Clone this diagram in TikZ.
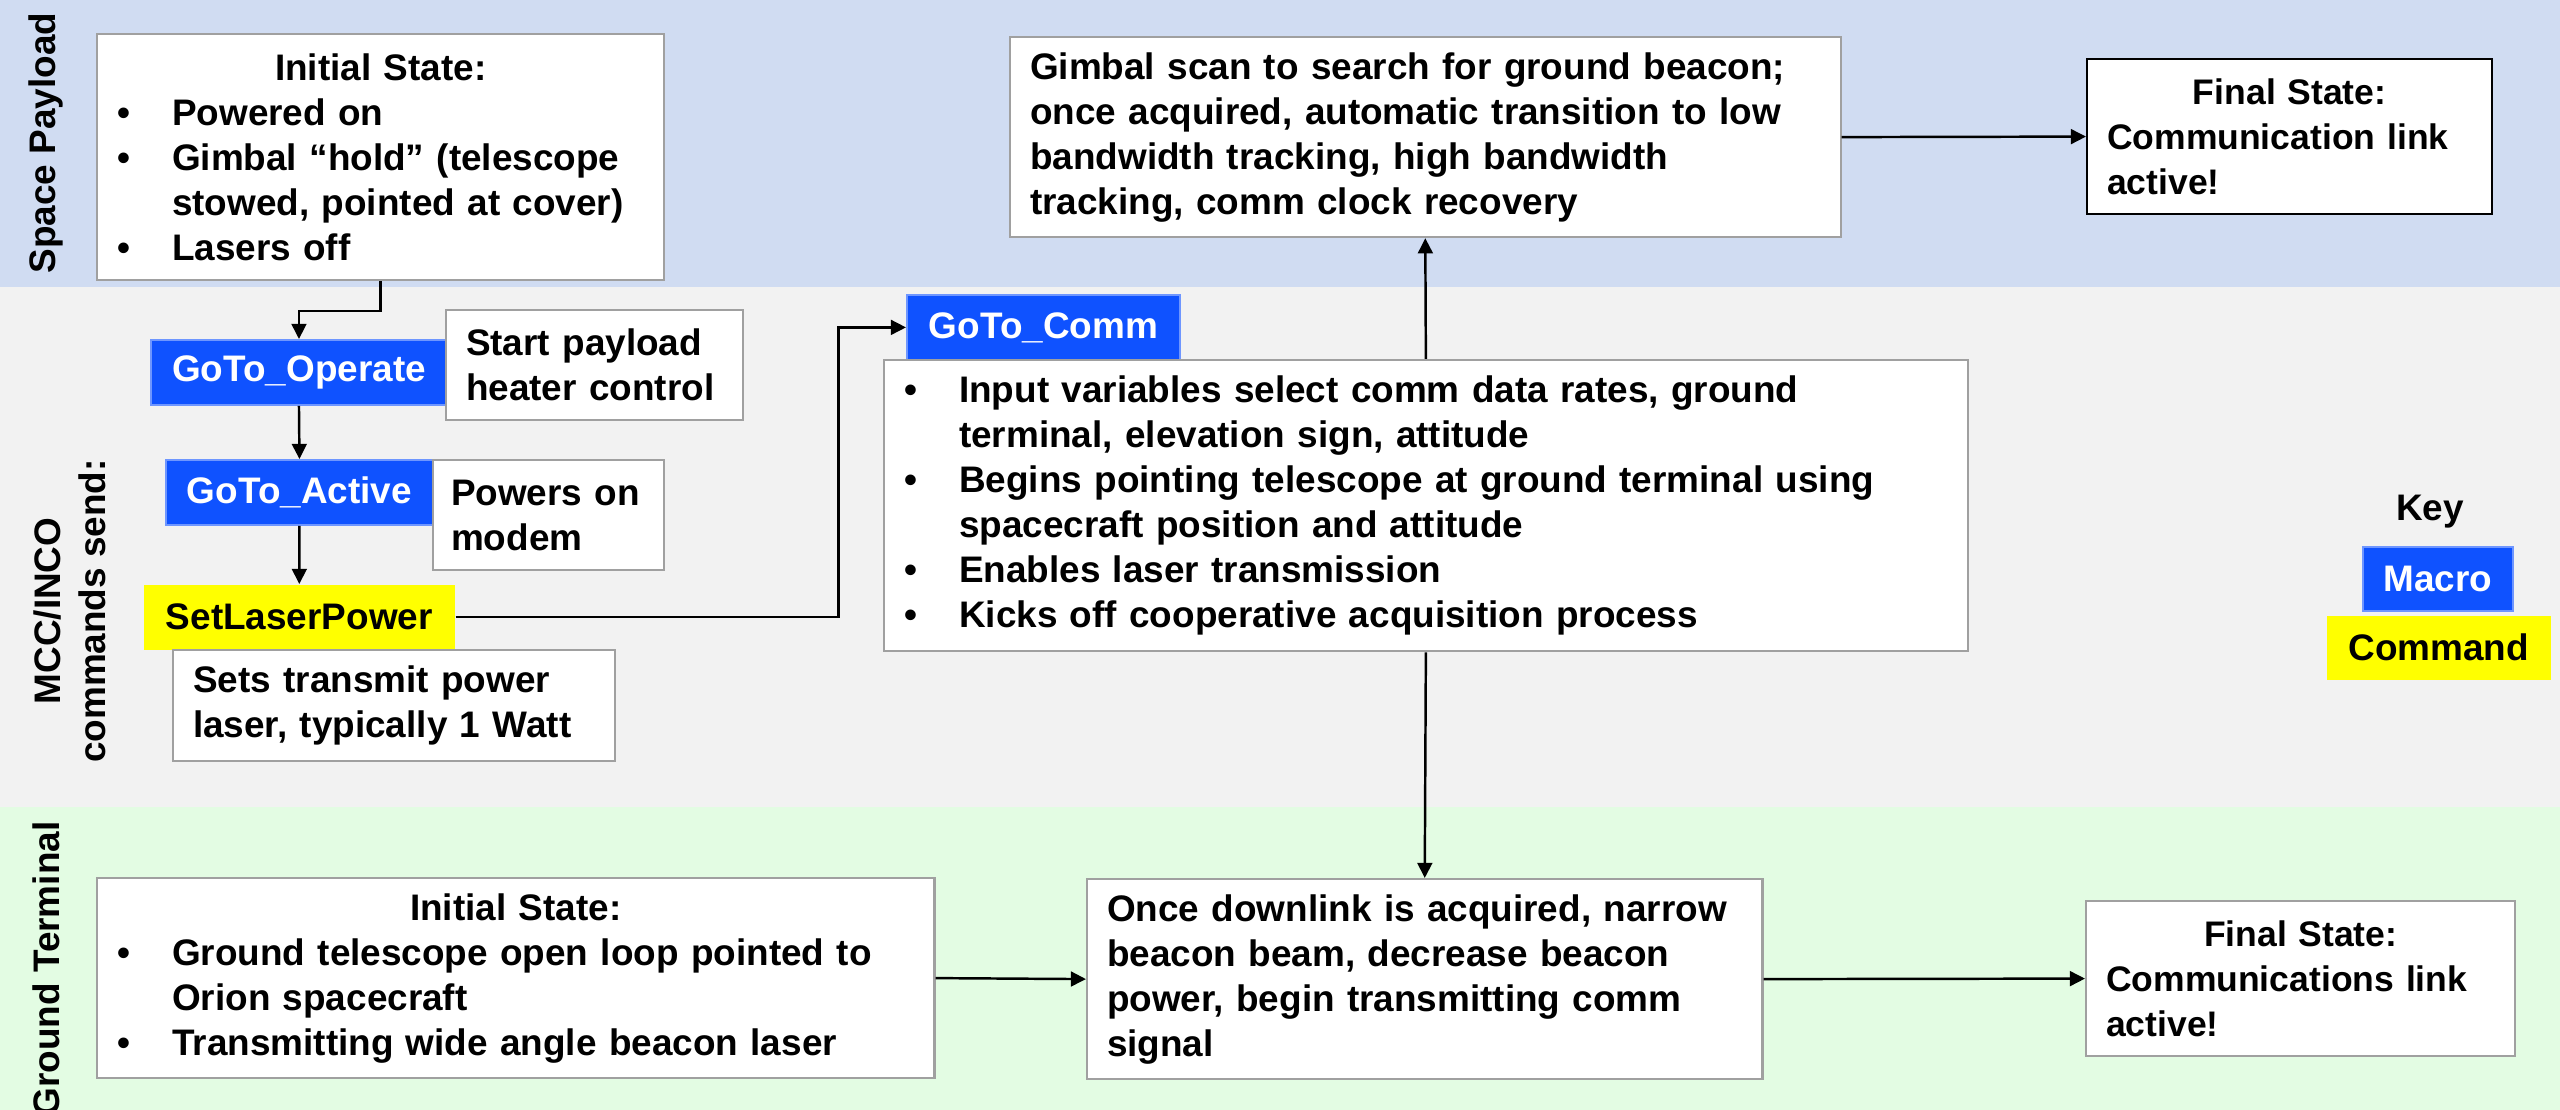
\documentclass[tikz,border=0pt]{standalone}
\usepackage{fontspec}
\setmainfont{Liberation Sans}
\usetikzlibrary{arrows.meta}

\definecolor{lanespace}{RGB}{208,220,242}
\definecolor{lanemcc}{RGB}{242,242,242}
\definecolor{laneground}{RGB}{227,252,227}
\definecolor{macroblue}{RGB}{15,82,255}
\definecolor{macroedge}{RGB}{110,150,255}
\definecolor{cmdyellow}{RGB}{255,255,0}
\definecolor{boxgray}{RGB}{160,160,160}

\newcommand{\bitem}{\makebox[0.55cm][l]{\textbullet}}
\newcommand{\bcont}{\hspace*{0.55cm}}

\begin{document}
\begin{tikzpicture}[
    x=0.01cm, y=-0.01cm,
    font=\fontsize{10.5}{12.8}\selectfont\bfseries,
    >={Triangle[length=4.3pt,width=4.2pt]},
    box/.style     = {draw=boxgray, fill=white, line width=0.6pt, anchor=north west,
                      align=left, inner xsep=0.2cm, inner ysep=0pt},
    macro/.style   = {draw=macroedge, fill=macroblue, text=white, line width=0.5pt,
                      anchor=north west, inner sep=0pt, minimum height=0.65cm},
    command/.style = {fill=cmdyellow, anchor=north west, inner sep=0pt, minimum height=0.65cm},
    conn/.style    = {->, line width=0.7pt},
    lane/.style    = {rotate=90, align=center},
  ]
  \useasboundingbox (0,0) rectangle (2560,1110);
  \clip (0,0) rectangle (2560,1110);

  % Hintergrundbaender
  \fill[lanespace]  (0,0)   rectangle (2560,287);
  \fill[lanemcc]    (0,287) rectangle (2560,807);
  \fill[laneground] (0,807) rectangle (2560,1110);

  % Beschriftung der Baender
  \node[lane] (laneSpace)  at (46,143) {Space Payload};
  \node[lane] (laneMcc)    at (70,611) {MCC/INCO\\commands send:};
  \node[lane] (laneGround) at (46,969) {Ground Terminal};

  % Space Payload
  \node[box, minimum width=5.67cm, minimum height=2.46cm, text width=5.27cm] (spInit) at (96,33) {%
    \makebox[\linewidth]{Initial State:}\\
    \bitem Powered on\\
    \bitem Gimbal “hold” (telescope\\
    \bcont stowed, pointed at cover)\\
    \bitem Lasers off};
  \node[box, minimum width=8.30cm, minimum height=2.00cm, text width=7.90cm] (gimbal) at (1009,36) {%
    Gimbal scan to search for ground beacon;\\
    once acquired, automatic transition to low\\
    bandwidth tracking, high bandwidth\\
    tracking, comm clock recovery};
  \node[box, draw=black, font=\fontsize{10.1}{12.8}\selectfont\bfseries,
        minimum width=4.05cm, minimum height=1.55cm, text width=3.65cm] (spFinal) at (2086,58) {%
    \makebox[\linewidth]{Final State:}\\
    Communication link\\
    active!};

  % Makros und Kommandos
  \node[macro, minimum width=2.96cm] (goOperate) at (150,339) {GoTo\_Operate};
  \node[box, minimum width=2.97cm, minimum height=1.10cm, text width=2.57cm] (startNote) at (445,309) {%
    Start payload\\heater control};
  \node[macro, minimum width=2.67cm] (goActive) at (165,459) {GoTo\_Active};
  \node[box, inner xsep=0.18cm, minimum width=2.31cm, minimum height=1.10cm, text width=1.95cm] (modemNote) at (432,459) {%
    Powers on\\modem};
  \node[command, minimum width=3.11cm] (setLaser) at (143,584) {SetLaserPower};
  \node[box, minimum width=4.42cm, minimum height=1.11cm, text width=4.02cm] (laserNote) at (172,649) {%
    Sets transmit power\\laser, typically 1 Watt};
  \node[macro, minimum width=2.73cm] (goComm) at (906,294) {GoTo\_Comm};
  \node[box, minimum width=10.83cm, minimum height=2.91cm, text width=10.43cm] (commNote) at (883,359) {%
    \bitem Input variables select comm data rates, ground\\
    \bcont terminal, elevation sign, attitude\\
    \bitem Begins pointing telescope at ground terminal using\\
    \bcont spacecraft position and attitude\\
    \bitem Enables laser transmission\\
    \bitem Kicks off cooperative acquisition process};

  % Ground Terminal
  \node[box, minimum width=8.37cm, minimum height=2.00cm, text width=7.97cm] (gtInit) at (96,877) {%
    \makebox[\linewidth]{Initial State:}\\
    \bitem Ground telescope open loop pointed to\\
    \bcont Orion spacecraft\\
    \bitem Transmitting wide angle beacon laser};
  \node[box, minimum width=6.75cm, minimum height=2.00cm, text width=6.35cm] (gtAcq) at (1086,878) {%
    Once downlink is acquired, narrow\\
    beacon beam, decrease beacon\\
    power, begin transmitting comm\\
    signal};
  \node[box, font=\fontsize{10.1}{12.8}\selectfont\bfseries,
        minimum width=4.29cm, minimum height=1.55cm, text width=3.89cm] (gtFinal) at (2085,900) {%
    \makebox[\linewidth]{Final State:}\\
    Communications link\\
    active!};

  % Legende
  \node (keyTitle) at (2430,512) {Key};
  \node[macro, minimum width=1.50cm, minimum height=0.64cm] (keyMacro) at (2362,546) {Macro};
  \node[command, minimum width=2.24cm, minimum height=0.64cm] (keyCommand) at (2326,615) {Command};

  % Verbindungen
  \draw[conn] (spInit.south) -- ++(0,30) -| (goOperate.north);
  \draw[conn] (goOperate.south) -- (goActive.north);
  \draw[conn] (goActive.south) -- (setLaser.north);
  \draw[conn] (setLaser.east) -- ++(383,0) |- (goComm.west);
  \draw[conn] (commNote.north) -- (gimbal.south);
  \draw[conn] (gimbal.east) -- (spFinal.west);
  \draw[conn] (commNote.south) -- (gtAcq.north);
  \draw[conn] (gtInit.east) -- (gtAcq.west);
  \draw[conn] (gtAcq.east) -- (gtFinal.west);
\end{tikzpicture}
\end{document}
